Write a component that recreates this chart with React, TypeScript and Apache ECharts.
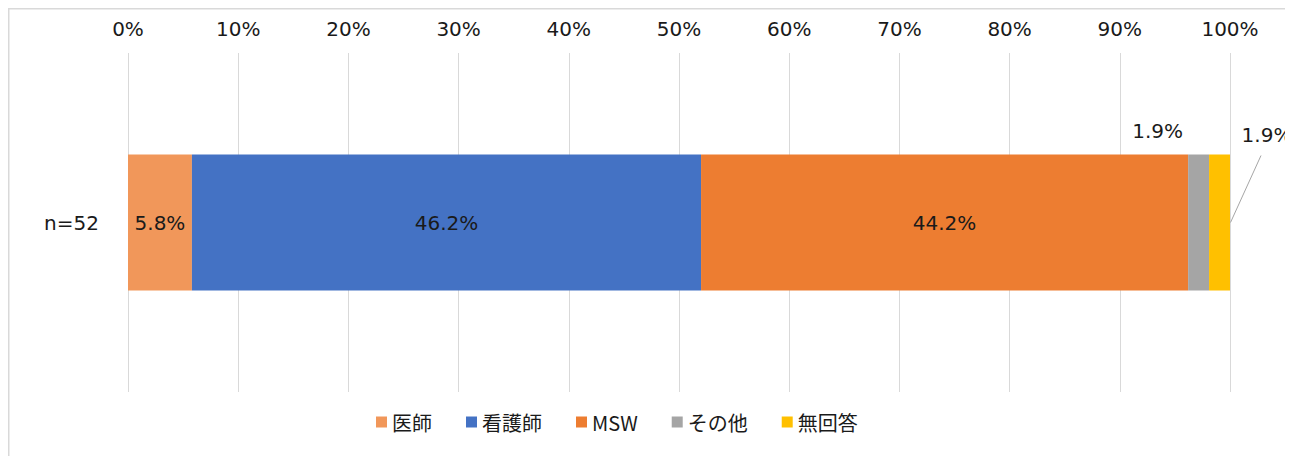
import React, { useEffect, useRef } from "react";
import * as echarts from "echarts";

const categories = ["n=52"];
const seriesNames = ["医師", "看護師", "MSW", "その他", "無回答"];
const seriesValues = [[5.8], [46.2], [44.2], [1.9], [1.9]];
const seriesColors = ["#F1975A", "#4472C4", "#ED7D31", "#A5A5A5", "#FFC000"];
const tickValues = [0, 10, 20, 30, 40, 50, 60, 70, 80, 90, 100];

const FONT = "DejaVu Sans, Noto Sans CJK JP, sans-serif";
const TEXT = "#1a1a1a";

export default function App() {
  const ref = useRef<HTMLDivElement>(null);
  useEffect(() => {
    if (!ref.current) return;
    document.documentElement.style.overflow = "hidden";
    document.body.style.overflow = "hidden";
    const chart = echarts.init(ref.current, undefined, { renderer: "svg" });
    const fmt = (p: any) => Number(p.value).toFixed(1) + "%";
    const series: any[] = seriesNames.map((name, i) => {
      const s: any = {
        name,
        type: "bar",
        stack: "total",
        barWidth: 136,
        data: seriesValues[i],
        itemStyle: { color: seriesColors[i] },
        label: {
          show: i !== 4,
          position: "inside",
          formatter: fmt,
          fontSize: 20,
          fontFamily: FONT,
          color: TEXT,
        },
      };
      if (i === 3) {
        s.label = { ...s.label, position: "top", offset: [-41, -9] };
      }
      return s;
    });
    // leader-line label for the last segment, anchored at the stack's end via the axis scale
    const total = seriesValues.reduce((a, v) => a + v[0], 0);
    const lastVal = seriesValues[4][0];
    series.push({
      name: "__lastLabel",
      type: "custom",
      silent: true,
      z: 5,
      data: [[total, 0, lastVal]],
      encode: { x: 0, y: 1 },
      renderItem: (params: any, api: any) => {
        const p = api.coord([api.value(0), api.value(1)]);
        return {
          type: "group",
          children: [
            {
              type: "line",
              shape: { x1: p[0] + 0.5, y1: p[1], x2: p[0] + 31, y2: p[1] - 67 },
              style: { stroke: "#a6a6a6", lineWidth: 1 },
            },
            {
              type: "text",
              x: p[0] + 37,
              y: p[1] - 88,
              style: {
                text: Number(api.value(2)).toFixed(1) + "%",
                fontSize: 20,
                fontFamily: FONT,
                fill: TEXT,
                align: "center",
                verticalAlign: "middle",
              },
            },
          ],
        };
      },
    });
    chart.setOption({
      animation: false,
      grid: { left: 120, right: 63, top: 45, bottom: 64 },
      xAxis: {
        type: "value",
        position: "top",
        min: 0,
        max: 100,
        interval: 10,
        axisLine: { show: false },
        axisTick: { show: false },
        splitLine: { show: true, lineStyle: { color: "#d9d9d9", width: 1 } },
        axisLabel: {
          fontSize: 20,
          fontFamily: FONT,
          color: TEXT,
          margin: 14,
          formatter: (v: number) => (tickValues.includes(v) ? v + "%" : ""),
        },
      },
      yAxis: {
        type: "category",
        data: categories,
        axisLine: { show: false },
        axisTick: { show: false },
        axisLabel: { fontSize: 20, fontFamily: FONT, color: TEXT, margin: 29 },
      },
      legend: {
        data: seriesNames,
        left: 363,
        top: 399,
        itemWidth: 11,
        itemHeight: 11,
        itemGap: 34,
        icon: "rect",
        textStyle: { fontSize: 20, fontFamily: "Noto Sans CJK JP, sans-serif", color: TEXT },
      },
      graphic: [
        {
          type: "polyline",
          shape: { points: [[0.75, 500], [0.75, 0.75], [1400, 0.75]] },
          style: { stroke: "#d9d9d9", lineWidth: 1.5, fill: null },
          silent: true,
        },
      ],
      series,
    });
    return () => chart.dispose();
  }, []);
  return <div ref={ref} style={{ width: 1285, height: 448 }} />;
}
